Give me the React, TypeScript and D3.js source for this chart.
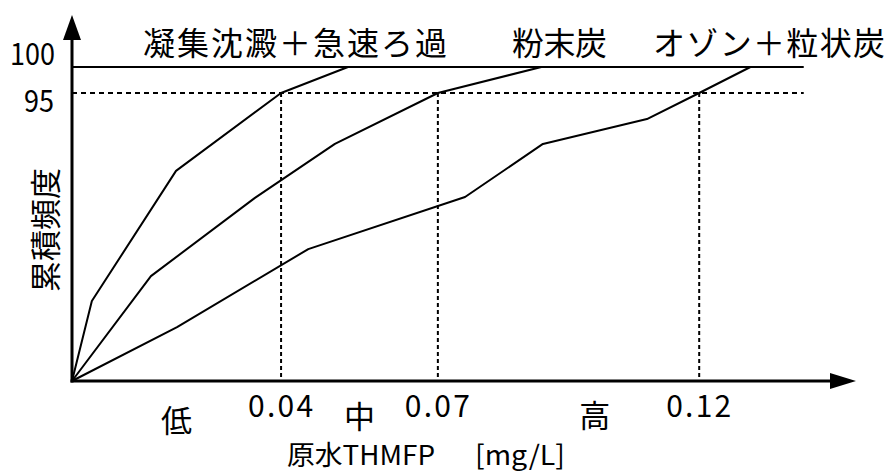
import React from 'react'
import * as d3 from 'd3'

// x ticks (mg/L) and their labels
const xTicks = [0.04, 0.07, 0.12]
const xTickLabels = ['0.04', '0.07', '0.12']
// y levels drawn as guide lines
const yTicks = [100, 95]
const yTickLabels = ['100', '95']
// raw water THMFP levels
const levelLabels = ['低', '中', '高']
const levelPos = [0.02, 0.055, 0.1]

const seriesNames = ['凝集沈澱＋急速ろ過', '粉末炭', 'オゾン＋粒状炭']

// cumulative frequency curves
const coagX = [0, 0.0038, 0.0199, 0.04, 0.0528]
const coagY = [0, 26.4, 69.3, 95, 100]
const pacX = [0, 0.0151, 0.035, 0.0503, 0.07, 0.0898]
const pacY = [0, 34.6, 60.4, 78.2, 95, 100]
const ozoneX = [0, 0.0201, 0.0452, 0.0752, 0.0901, 0.11, 0.12, 0.1298]
const ozoneY = [0, 17.8, 43.5, 60.7, 78.2, 86.4, 95, 100]

const FONT = '"Noto Sans CJK JP", "Noto Sans", sans-serif'

export default function App() {
  const width = 888
  const height = 473

  const x = d3.scaleLinear().domain([0, 0.15]).range([72, 856])
  // the axis is schematic: 0-95 stretched, 95-100 compressed
  const y = d3.scaleLinear().domain([0, 95, 100]).range([381, 93, 67])

  const line = d3.line<[number, number]>()
    .x(d => x(d[0]))
    .y(d => y(d[1]))

  const curves = [
    d3.zip(coagX, coagY) as [number, number][],
    d3.zip(pacX, pacY) as [number, number][],
    d3.zip(ozoneX, ozoneY) as [number, number][],
  ]

  const x0 = x(0)
  const y0 = y(0)
  const xEnd = x(0.14)
  const xTip = x(0.15)
  const yTip = 15

  // series label placement
  const seriesLayout = [
    { x: 143, len: 304 },
    { x: 512, len: 95 },
    { x: 653, len: 232 },
  ]

  return (
    <svg width={width} height={height}
      style={{ position: 'absolute', left: 0, top: 0, background: '#fff' }}
      fontFamily={FONT}>
      {/* 100 line */}
      <line x1={x0} x2={xEnd} y1={y(yTicks[0])} y2={y(yTicks[0])} stroke="#000" strokeWidth={2} />
      {/* 95 line */}
      <line x1={x0} x2={xEnd} y1={y(yTicks[1])} y2={y(yTicks[1])} stroke="#000" strokeWidth={2} strokeDasharray="5,4" />
      {/* vertical guides */}
      {xTicks.map(t => (
        <line key={t} x1={x(t)} x2={x(t)} y1={y(95)} y2={y0}
          stroke="#000" strokeWidth={2} strokeDasharray="4,3" />
      ))}

      {curves.map((c, i) => (
        <path key={i} d={line(c) || ''} fill="none" stroke="#000" strokeWidth={2} strokeLinejoin="round" />
      ))}

      {/* axes */}
      <line x1={x0} x2={x0} y1={y0 + 1.5} y2={yTip + 20} stroke="#000" strokeWidth={3} />
      <path d={`M${x0},${yTip} L${x0 - 9},${yTip + 25} L${x0 + 9},${yTip + 25} Z`} fill="#000" />
      <line x1={x0 - 1.5} x2={xTip - 20} y1={y0} y2={y0} stroke="#000" strokeWidth={3} />
      <path d={`M${xTip},${y0} L${xTip - 26},${y0 - 8} L${xTip - 26},${y0 + 8} Z`} fill="#000" />

      {/* y labels */}
      <text x={55} y={65} fontSize={30} textAnchor="end" textLength={45} lengthAdjust="spacingAndGlyphs">{yTickLabels[0]}</text>
      <text x={54} y={112} fontSize={30} textAnchor="end" textLength={30} lengthAdjust="spacingAndGlyphs">{yTickLabels[1]}</text>

      {/* x tick labels */}
      {xTicks.map((t, i) => (
        <text key={t} x={x(t) - 33} y={417} fontSize={30} textLength={65} lengthAdjust="spacing">{xTickLabels[i]}</text>
      ))}

      {/* level labels */}
      {levelLabels.map((l, i) => (
        <text key={l} x={x(levelPos[i])} y={[432, 428, 427][i]} fontSize={31} textAnchor="middle">{l}</text>
      ))}

      {/* series names */}
      {seriesNames.map((s, i) => (
        <text key={s} x={seriesLayout[i].x} y={55} fontSize={32}
          textLength={seriesLayout[i].len} lengthAdjust="spacing">{s}</text>
      ))}

      {/* axis titles */}
      <text x={287} y={465} fontSize={27} textLength={148} lengthAdjust="spacingAndGlyphs">原水THMFP</text>
      <text x={475} y={465} fontSize={27} textLength={90} lengthAdjust="spacingAndGlyphs">[mg/L]</text>
      <text transform="translate(57,230) rotate(-90)" fontSize={31} textAnchor="middle">累積頻度</text>
    </svg>
  )
}
